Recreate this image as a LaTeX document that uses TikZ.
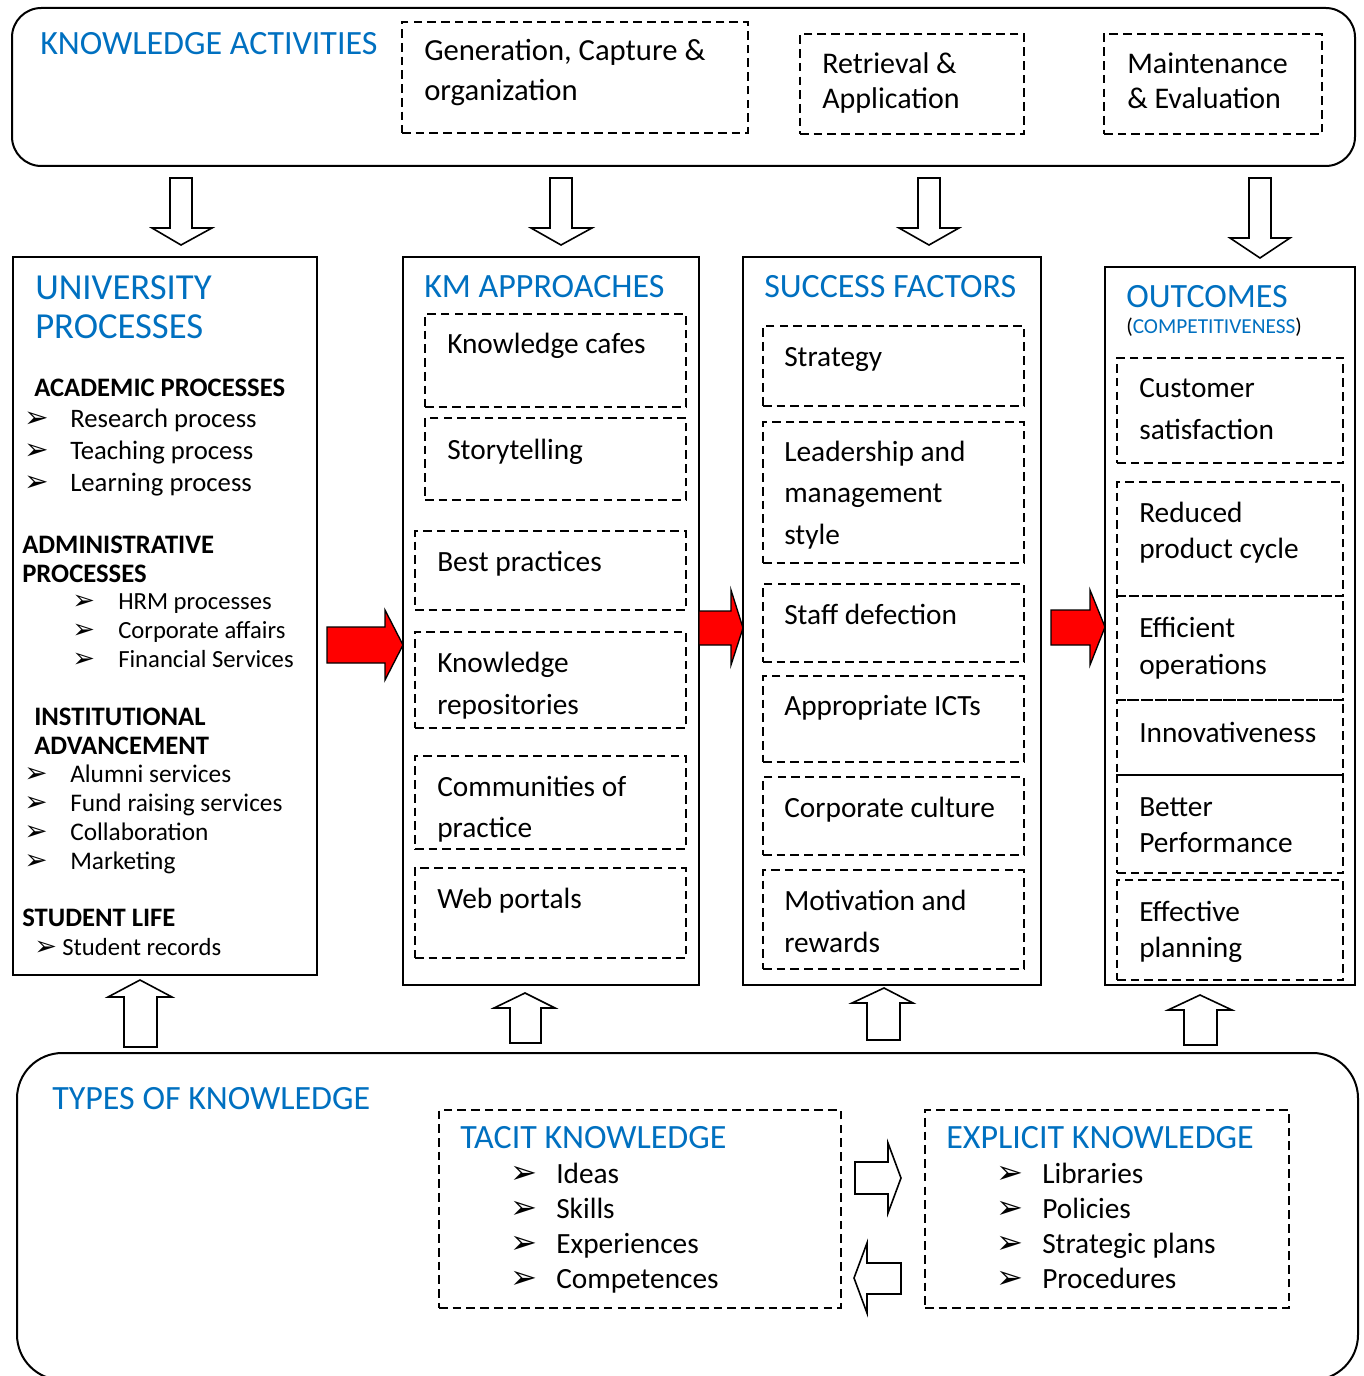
\documentclass[tikz,border=0pt]{standalone}
\usepackage{fontspec}
\setmainfont{Carlito}
\newfontfamily\dingfont{DejaVu Sans}
\usetikzlibrary{positioning,fit}
\definecolor{kblue}{RGB}{0,112,192}
\newcommand{\bul}{\scalebox{1.1}{\dingfont ➢}}
\newcommand{\bl}{\makebox[34.5pt][l]{\bul}}

\begin{document}
\begin{tikzpicture}[
    x=0.75pt, y=-0.75pt,
    rbox/.style={draw, line width=1.5pt, rounded corners=22pt},
    colbox/.style={draw, line width=1.6pt, inner sep=0pt},
    dbox/.style={draw, line width=2pt, dash pattern=on 6.5pt off 3.8pt, inner sep=0pt},
    head/.style={anchor=base west, align=left, inner sep=0pt, text=kblue, font=\fontsize{25.5}{28}\selectfont},
    subhead/.style={anchor=base west, align=left, inner sep=0pt, font=\fontsize{20}{21.75}\selectfont\bfseries},
    btxt/.style={anchor=base west, align=left, inner sep=0pt, font=\fontsize{22}{31.5}\selectfont},
    btxtn/.style={btxt, font=\fontsize{22}{27}\selectfont},
    ltxt/.style={anchor=base west, align=left, inner sep=0pt, font=\fontsize{20}{24}\selectfont},
    stxt/.style={anchor=base west, align=left, inner sep=0pt, font=\fontsize{18.5}{21.75}\selectfont},
    hollow/.style={draw, fill=white, line width=1.2pt},
    redarr/.style={draw, fill=red, line width=1pt}
]
\useasboundingbox (0,0) rectangle (1363,1376);

% knowledge activities
\node[rbox, inner sep=0pt, fit={(12,8) (1355,166)}] (act) {};
\node[head] (acth) at (40,55) {KNOWLEDGE ACTIVITIES};
\node[dbox, fit={(402,22) (748,133)}] (gen) {};
\node[btxt, font=\fontsize{23}{30}\selectfont] (gent) at (424,101) {Generation, Capture \&\\organization};
\node[dbox, fit={(800,34) (1024,134)}] (ret) {};
\node[btxt, font=\fontsize{22.5}{26.25}\selectfont] (rett) at (822,109) {Retrieval \&\\Application};
\node[dbox, fit={(1104,34) (1322,134)}] (mai) {};
\node[btxt, font=\fontsize{22.5}{26.25}\selectfont] (mait) at (1127,109) {Maintenance\\\& Evaluation};

% arrows down
\draw[hollow] (170,178) -- (192,178) -- (192,228) -- (212,228) -- (181,245) -- (152,228) -- (170,228) -- cycle;
\draw[hollow] (550,178) -- (572,178) -- (572,228) -- (592,228) -- (561,245) -- (531,228) -- (550,228) -- cycle;
\draw[hollow] (918,178) -- (940,178) -- (940,228) -- (959,228) -- (929,245) -- (899,228) -- (918,228) -- cycle;
\draw[hollow] (1249,178) -- (1271,178) -- (1271,238) -- (1290,238) -- (1260,258) -- (1230,238) -- (1249,238) -- cycle;

% university processes
\node[colbox, fit={(13,257) (317,975)}] (univ) {};
\node[head, font=\fontsize{27.5}{28.5}\selectfont] (univh) at (35,338) {UNIVERSITY\\PROCESSES};
\node[subhead] (acadh) at (34,396) {ACADEMIC PROCESSES};
\node[ltxt] (acadl) at (24,491) {\bl Research process\\\bl Teaching process\\\bl Learning process};
\node[subhead] (admh) at (22,582) {ADMINISTRATIVE\\PROCESSES};
\node[stxt] (adml) at (72,667) {\bl HRM processes\\\bl Corporate affairs\\\bl Financial Services};
\node[subhead] (insth) at (34,754) {INSTITUTIONAL\\ADVANCEMENT};
\node[stxt, font=\fontsize{19}{21.75}\selectfont] (instl) at (24,869) {\bl Alumni services\\\bl Fund raising services\\\bl Collaboration\\\bl Marketing};
\node[subhead] (stuh) at (22,926) {STUDENT LIFE};
\node[stxt] (stul) at (34,955) {\bul\hspace{4pt}Student records};

% km approaches
\node[colbox, fit={(403,257) (699,985)}] (kma) {};
\node[head] (kmah) at (424,297) {KM APPROACHES};
\node[dbox, fit={(425,314) (686,407)}] (cafe) {};
\node[btxt] (cafet) at (447,353) {Knowledge cafes};
\node[dbox, fit={(425,418) (686,500)}] (story) {};
\node[btxt] (storyt) at (447,459) {Storytelling};
\node[dbox, fit={(415,531) (686,610)}] (best) {};
\node[btxt] (bestt) at (437,571) {Best practices};
\node[dbox, fit={(415,632) (686,728)}] (repo) {};
\node[btxt] (repot) at (437,714) {Knowledge\\repositories};
\node[dbox, fit={(415,756) (686,849)}] (comm) {};
\node[btxt, font=\fontsize{22}{30.75}\selectfont] (commt) at (437,837) {Communities of\\practice};
\node[dbox, fit={(415,868) (686,958)}] (web) {};
\node[btxt] (webt) at (437,908) {Web portals};

% success factors
\node[colbox, fit={(743,257) (1041,985)}] (suc) {};
\node[head] (such) at (764,297) {SUCCESS FACTORS};
\node[dbox, fit={(763,326) (1024,406)}] (strat) {};
\node[btxt] (stratt) at (784,366) {Strategy};
\node[dbox, fit={(763,422) (1024,563)}] (lead) {};
\node[btxt, font=\fontsize{22}{31}\selectfont] (leadt) at (784,544) {Leadership and\\management\\style};
\node[dbox, fit={(763,584) (1024,662)}] (staff) {};
\node[btxt] (stafft) at (784,624) {Staff defection};
\node[dbox, fit={(763,676) (1024,762)}] (ict) {};
\node[btxt] (ictt) at (784,715) {Appropriate ICTs};
\node[dbox, fit={(763,777) (1024,855)}] (cult) {};
\node[btxt] (cultt) at (784,817) {Corporate culture};
\node[dbox, fit={(763,870) (1024,969)}] (moti) {};
\node[btxt] (motit) at (784,952) {Motivation and\\rewards};

% outcomes
\node[colbox, fit={(1105,267) (1355,985)}] (out) {};
\node[head] (outh) at (1126,307) {OUTCOMES};
\node[head, font=\fontsize{16}{18}\selectfont] (outs) at (1126,333) {{\color{black}(}COMPETITIVENESS{\color{black})}};
\node[dbox, fit={(1117,358) (1343,463)}] (cust) {};
\node[btxt] (custt) at (1139,439) {Customer\\satisfaction};
\node[dbox, fit={(1117,482) (1343,596)}] (redu) {};
\node[btxtn] (redut) at (1139,558) {Reduced\\product cycle};
\node[dbox, fit={(1117,596) (1343,700)}] (effi) {};
\node[btxtn, font=\fontsize{22}{27.75}\selectfont] (effit) at (1139,674) {Efficient\\operations};
\node[dbox, fit={(1117,700) (1343,775)}] (inno) {};
\node[btxt] (innot) at (1139,742) {Innovativeness};
\node[dbox, fit={(1117,775) (1343,873)}] (bett) {};
\node[btxtn] (bettt) at (1139,852) {Better\\Performance};
\node[dbox, fit={(1117,880) (1343,980)}] (plan) {};
\node[btxtn] (plant) at (1139,957) {Effective\\planning};

% red arrows between columns
\draw[redarr] (327,627) -- (385,627) -- (385,610) -- (403,645) -- (385,680) -- (385,663) -- (327,663) -- cycle;
\draw[redarr] (699,611) -- (731,611) -- (731,590) -- (743,628) -- (731,665) -- (731,645) -- (699,645) -- cycle;
\draw[redarr] (1051,610) -- (1090,610) -- (1090,590) -- (1105,627) -- (1090,665) -- (1090,645) -- (1051,645) -- cycle;

% arrows up
\draw[hollow] (124,1047) -- (124,997) -- (108,997) -- (140,980) -- (172,997) -- (157,997) -- (157,1047) -- cycle;
\draw[hollow] (510,1043) -- (510,1008) -- (494,1008) -- (525,993) -- (555,1008) -- (541,1008) -- (541,1043) -- cycle;
\draw[hollow] (867,1040) -- (867,1003) -- (852,1003) -- (884,988) -- (913,1003) -- (900,1003) -- (900,1040) -- cycle;
\draw[hollow] (1184,1045) -- (1184,1010) -- (1168,1010) -- (1200,995) -- (1232,1010) -- (1217,1010) -- (1217,1045) -- cycle;

% types of knowledge
\node[rbox, rounded corners=34pt, inner sep=0pt, fit={(17,1053) (1358,1380)}] (types) {};
\node[head] (typesh) at (52,1109) {TYPES OF KNOWLEDGE};
\node[dbox, fit={(439,1110) (841,1308)}] (tacit) {};
\node[head] (tacith) at (460,1148) {TACIT KNOWLEDGE};
\node[btxt, font=\fontsize{22}{26.25}\selectfont] (tacitl) at (510,1288) {\bl Ideas\\\bl Skills\\\bl Experiences\\\bl Competences};
\node[dbox, fit={(925,1110) (1289,1308)}] (expl) {};
\node[head] (explh) at (946,1148) {EXPLICIT KNOWLEDGE};
\node[btxt, font=\fontsize{22}{26.25}\selectfont] (expll) at (996,1288) {\bl Libraries\\\bl Policies\\\bl Strategic plans\\\bl Procedures};

% conversion arrows
\draw[hollow] (855,1162) -- (888,1162) -- (888,1143) -- (901,1178) -- (888,1213) -- (888,1194) -- (855,1194) -- cycle;
\draw[hollow] (901,1263) -- (867,1263) -- (867,1243) -- (854,1278) -- (867,1313) -- (867,1294) -- (901,1294) -- cycle;
\end{tikzpicture}
\end{document}
